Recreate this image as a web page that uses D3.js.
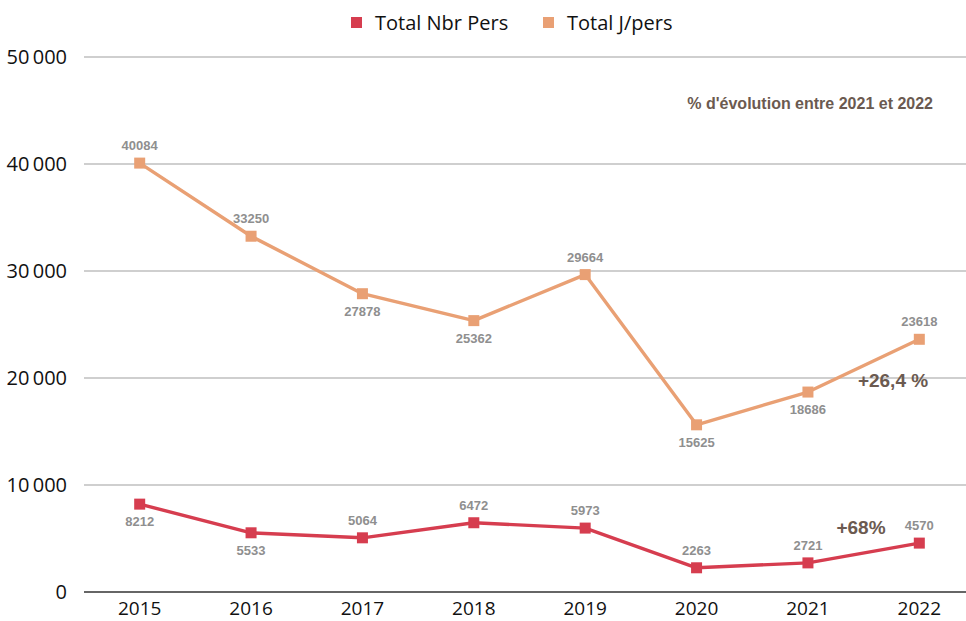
<!DOCTYPE html>
<html>
<head>
<meta charset="utf-8">
<script src="https://cdn.jsdelivr.net/npm/d3@7"></script>
<style>
  body { margin: 0; background: #fff; overflow: hidden; }
  svg { display: block; font-family: "Open Sans", sans-serif; }
  .lbl { font-family: "Liberation Sans", Arial, sans-serif; font-weight: bold; font-size: 13px; fill: #8f8f8f; }
  .note { font-family: "Liberation Sans", Arial, sans-serif; font-weight: bold; fill: #6b5a50; }
</style>
</head>
<body>
<div id="graf"></div>
<script>
// Datos
const annees = ['2015', '2016', '2017', '2018', '2019', '2020', '2021', '2022']
const nbrPers = [8212, 5533, 5064, 6472, 5973, 2263, 2721, 4570]
const jPers = [40084, 33250, 27878, 25362, 29664, 15625, 18686, 23618]
const yTicks = [0, 10000, 20000, 30000, 40000, 50000]
// position des étiquettes: 1 = dessus, -1 = dessous
const posNbr = [-1, -1, 1, 1, 1, 1, 1, 1]
const posJ = [1, 1, -1, -1, 1, -1, -1, 1]

const anchoTotal = 966
const altoTotal = 621

const svg = d3.select('#graf').append('svg')
    .attr('width', anchoTotal)
    .attr('height', altoTotal)

// Escaladores
const x = d3.scaleBand()
    .domain(annees)
    .range([84, 975])

const y = d3.scaleLinear()
    .domain([0, 50000])
    .range([592, 57])

const fmt = (d) => d3.format(',')(d).replace(',', '\u2009')

// Grille
svg.append('g').selectAll('line')
    .data(yTicks.filter(d => d > 0))
    .join('line')
    .attr('x1', 84).attr('x2', anchoTotal)
    .attr('y1', d => y(d)).attr('y2', d => y(d))
    .attr('stroke', '#bfbfbf').attr('stroke-width', 1.3)

// Axe Y (étiquettes)
svg.append('g').selectAll('text')
    .data(yTicks)
    .join('text')
    .attr('x', 67)
    .attr('y', d => y(d))
    .attr('dy', '0.35em')
    .attr('text-anchor', 'end')
    .attr('font-size', 20)
    .attr('fill', '#111')
    .text(fmt)

// Axe X
const xAxis = d3.axisBottom(x).tickSize(0).tickPadding(0)
const xg = svg.append('g')
    .attr('transform', `translate(0, ${y(0)})`)
    .call(xAxis)
xg.select('.domain').attr('stroke', '#666').attr('stroke-width', 2)
    .attr('d', `M84,0H${anchoTotal}`)
xg.selectAll('text').attr('font-size', 19).attr('fill', '#111')
    .attr('font-family', '"Open Sans", sans-serif')
    .attr('y', 0)
    .attr('dy', 23)

const cx = (i) => x(annees[i]) + x.bandwidth() / 2

const series = [
    { nom: 'Total Nbr Pers', vals: nbrPers, pos: posNbr, color: '#d63d4f' },
    { nom: 'Total J/pers', vals: jPers, pos: posJ, color: '#e9a074' }
]

const line = d3.line()
    .x((d, i) => cx(i))
    .y(d => y(d))

series.forEach(s => {
    svg.append('path')
        .datum(s.vals)
        .attr('d', line)
        .attr('fill', 'none')
        .attr('stroke', s.color)
        .attr('stroke-width', 3.4)
        .attr('stroke-linejoin', 'round')

    svg.append('g').selectAll('rect')
        .data(s.vals)
        .join('rect')
        .attr('x', (d, i) => cx(i) - 5.5)
        .attr('y', d => y(d) - 5.5)
        .attr('width', 11)
        .attr('height', 11)
        .attr('fill', s.color)

    svg.append('g').selectAll('text')
        .data(s.vals)
        .join('text')
        .attr('class', 'lbl')
        .attr('x', (d, i) => cx(i))
        .attr('y', (d, i) => y(d) + (s.pos[i] > 0 ? -13 : 22))
        .attr('text-anchor', 'middle')
        .text(d => d)
})

// Légende
const leg = svg.append('g')
const legX = [351, 543]
series.forEach((s, i) => {
    leg.append('rect')
        .attr('x', legX[i]).attr('y', 17)
        .attr('width', 11).attr('height', 11)
        .attr('fill', s.color)
    leg.append('text')
        .attr('x', legX[i] + 24).attr('y', 23)
        .attr('dy', '0.35em')
        .attr('font-size', 20)
        .attr('fill', '#111')
        .text(s.nom)
})

// Annotations
svg.append('text').attr('class', 'note')
    .attr('x', 933).attr('y', 109)
    .attr('text-anchor', 'end')
    .attr('font-size', 16)
    .text("% d'évolution entre 2021 et 2022")

svg.append('text').attr('class', 'note')
    .attr('x', 893).attr('y', 387)
    .attr('text-anchor', 'middle')
    .attr('font-size', 19)
    .text('+26,4 %')

svg.append('text').attr('class', 'note')
    .attr('x', 861).attr('y', 534)
    .attr('text-anchor', 'middle')
    .attr('font-size', 19)
    .text('+68%')
</script>
</body>
</html>
